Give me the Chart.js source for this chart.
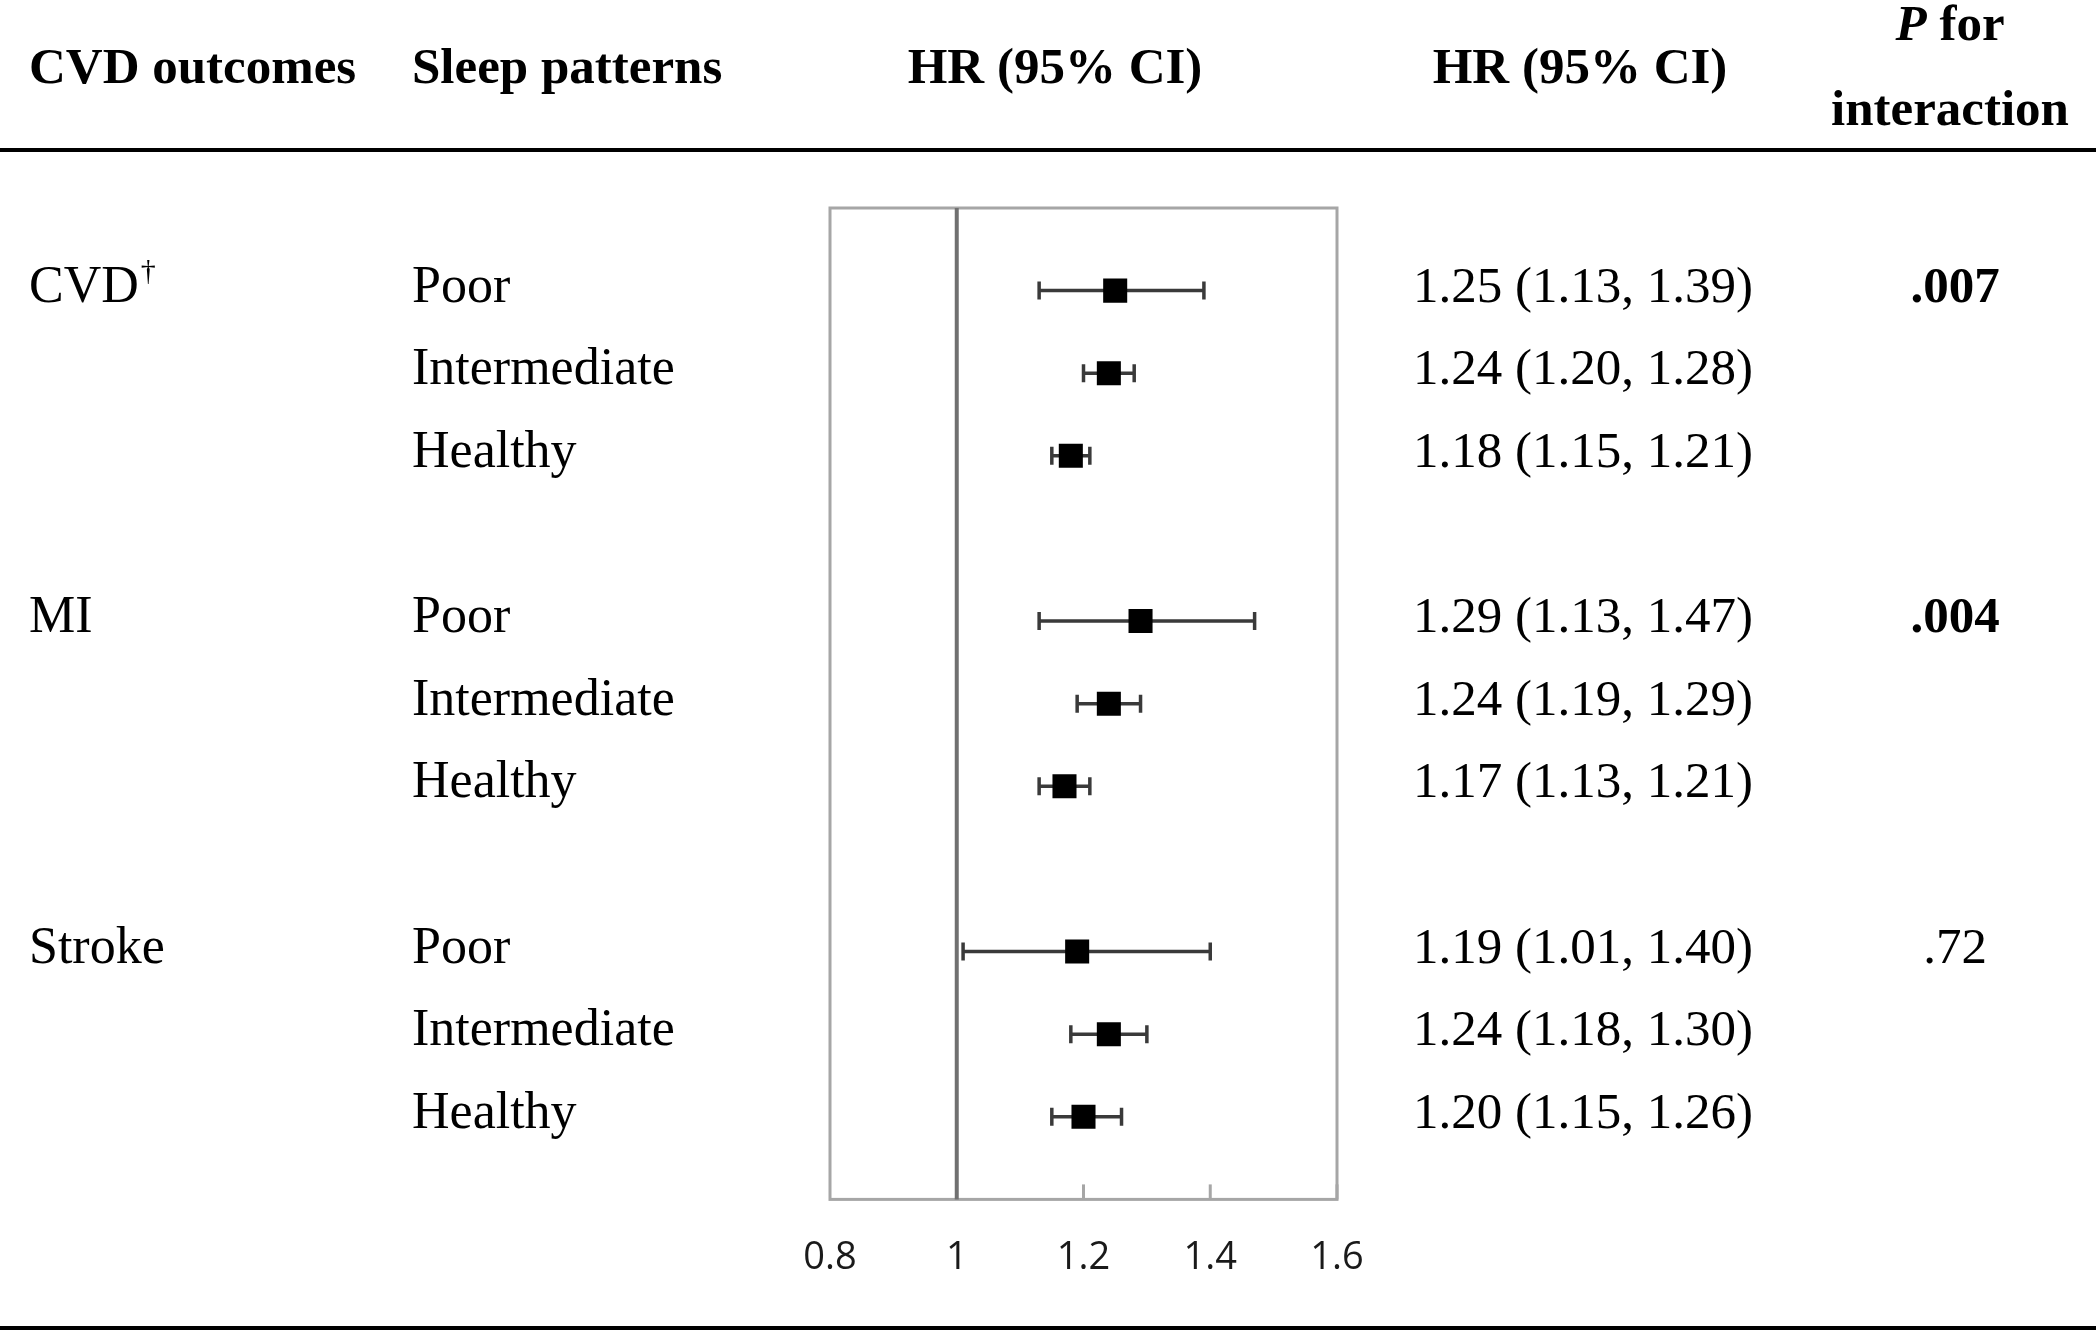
<!DOCTYPE html>
<html>
<head>
<meta charset="utf-8">
<style>
  html, body { margin: 0; padding: 0; background: #fff; }
  #wrap { width: 2100px; height: 1334px; }
</style>
<script src="https://cdn.jsdelivr.net/npm/chart.js@4.4.0/dist/chart.umd.min.js"></script>
</head>
<body>
<div id="wrap"><canvas id="forest" width="2100" height="1334"></canvas></div>
<script>
/* ── Data ── */
const outcomes = ['CVD', 'MI', 'Stroke'];
const patterns = ['Poor', 'Intermediate', 'Healthy'];
const rowIdx = [0, 1, 2, 4, 5, 6, 8, 9, 10];
const hr = [1.25, 1.24, 1.18, 1.29, 1.24, 1.17, 1.19, 1.24, 1.20];
const lo = [1.13, 1.20, 1.15, 1.13, 1.19, 1.13, 1.01, 1.18, 1.15];
const hi = [1.39, 1.28, 1.21, 1.47, 1.29, 1.21, 1.40, 1.30, 1.26];
const pInter = ['.007', '.004', '.72'];
const pBold = [true, true, false];
const xTicks = [0.8, 1, 1.2, 1.4, 1.6];

/* ── Styles ── */
const SERIF = "'Liberation Serif', 'Times New Roman', serif";
const BOX = '#a6a6a6';
const WHISKER = '#3a3a3a';

function fmtCI(i) {
  return hr[i].toFixed(2) + ' (' + lo[i].toFixed(2) + ', ' + hi[i].toFixed(2) + ')';
}

/* ── Frame, reference line, whiskers ── */
const framePlugin = {
  id: 'frame',
  beforeDatasetsDraw(chart) {
    const { ctx, chartArea: a, scales: { x, y } } = chart;
    ctx.save();
    // box
    ctx.strokeStyle = BOX;
    ctx.lineWidth = 3;
    ctx.strokeRect(a.left, a.top, a.right - a.left, a.bottom - a.top);
    // inner ticks on the bottom edge
    xTicks.slice(2).forEach(v => {
      const px = x.getPixelForValue(v);
      ctx.beginPath();
      ctx.moveTo(px, a.bottom);
      ctx.lineTo(px, a.bottom - 15);
      ctx.stroke();
    });
    // HR = 1 line
    const x1 = x.getPixelForValue(1);
    ctx.strokeStyle = '#707070';
    ctx.lineWidth = 4;
    ctx.beginPath();
    ctx.moveTo(x1, a.top);
    ctx.lineTo(x1, a.bottom);
    ctx.stroke();
    // CI whiskers
    ctx.strokeStyle = WHISKER;
    ctx.lineWidth = 3.5;
    rowIdx.forEach((r, i) => {
      const py = y.getPixelForValue(r);
      const xl = x.getPixelForValue(lo[i]);
      const xh = x.getPixelForValue(hi[i]);
      ctx.beginPath();
      ctx.moveTo(xl, py); ctx.lineTo(xh, py);
      ctx.moveTo(xl, py - 9); ctx.lineTo(xl, py + 9);
      ctx.moveTo(xh, py - 9); ctx.lineTo(xh, py + 9);
      ctx.stroke();
    });
    ctx.restore();
  }
};

/* ── Table text ── */
const tablePlugin = {
  id: 'table',
  afterDraw(chart) {
    const { ctx, scales: { y } } = chart;
    ctx.save();
    ctx.fillStyle = '#000';
    ctx.textBaseline = 'alphabetic';

    // header
    ctx.font = 'bold 51px ' + SERIF;
    ctx.textAlign = 'left';
    ctx.fillText('CVD outcomes', 29, 83);
    ctx.fillText('Sleep patterns', 412, 83);
    ctx.textAlign = 'center';
    ctx.fillText('HR (95% CI)', 1055, 83);
    ctx.fillText('HR (95% CI)', 1580, 83);
    ctx.fillText('interaction', 1950, 125);
    // "P for" with italic P
    ctx.textAlign = 'left';
    ctx.font = 'italic bold 51px ' + SERIF;
    const wP = ctx.measureText('P').width;
    ctx.font = 'bold 51px ' + SERIF;
    const wFor = ctx.measureText(' for').width;
    const start = 1950 - (wP + wFor) / 2;
    ctx.font = 'italic bold 51px ' + SERIF;
    ctx.fillText('P', start, 40);
    ctx.font = 'bold 51px ' + SERIF;
    ctx.fillText(' for', start + wP, 40);

    // rules
    ctx.fillRect(0, 148, 2096, 4);
    ctx.fillRect(0, 1326, 2096, 4);

    // rows
    rowIdx.forEach((r, i) => {
      const base = y.getPixelForValue(r) + 11;
      const g = Math.floor(i / 3);
      ctx.textAlign = 'left';
      ctx.font = '52px ' + SERIF;
      if (i % 3 === 0) {
        ctx.fillText(outcomes[g], 29, base);
        if (g === 0) {
          const w = ctx.measureText(outcomes[g]).width;
          ctx.font = '30px ' + SERIF;
          ctx.fillText('\u2020', 29 + w + 2, base - 22);
          ctx.font = '52px ' + SERIF;
        }
      }
      ctx.fillText(patterns[i % 3], 412, base);
      ctx.font = '51px ' + SERIF;
      ctx.fillText(fmtCI(i), 1413, base);
      if (i % 3 === 0) {
        ctx.textAlign = 'center';
        ctx.font = (pBold[g] ? 'bold ' : '') + '51px ' + SERIF;
        ctx.fillText(pInter[g], 1955, base);
      }
    });
    ctx.restore();
  }
};

new Chart(document.getElementById('forest'), {
  type: 'scatter',
  data: {
    datasets: [{
      data: rowIdx.map((r, i) => ({ x: hr[i], y: r })),
      pointStyle: 'rect',
      pointRadius: 17,
      pointHoverRadius: 17,
      backgroundColor: '#000',
      borderColor: '#000',
      borderWidth: 0,
    }]
  },
  options: {
    responsive: false,
    animation: false,
    devicePixelRatio: 1,
    layout: { padding: { left: 830, right: 763, top: 208, bottom: 25 } },
    plugins: { legend: { display: false }, tooltip: { enabled: false } },
    scales: {
      x: {
        type: 'linear',
        min: 0.8,
        max: 1.6,
        afterBuildTicks: axis => { axis.ticks = xTicks.map(v => ({ value: v })); },
        grid: { display: false },
        border: { display: false },
        ticks: {
          padding: 28,
          color: '#1a1a1a',
          font: { family: "'Open Sans', sans-serif", size: 38 },
          callback: v => String(parseFloat(v.toFixed(1))),
        }
      },
      y: {
        type: 'linear',
        min: -1,
        max: 11,
        reverse: true,
        display: false,
      }
    }
  },
  plugins: [framePlugin, tablePlugin]
});
</script>
</body>
</html>
